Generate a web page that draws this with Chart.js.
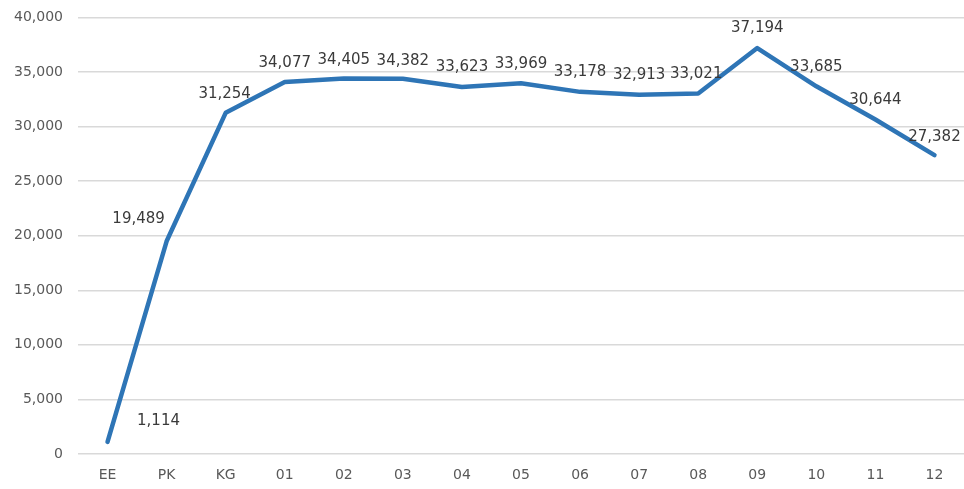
<!DOCTYPE html>
<html>
<head>
<meta charset="utf-8">
<script src="https://cdn.jsdelivr.net/npm/chart.js@4"></script>
<style>
  html, body { margin: 0; padding: 0; background: #fff; overflow: hidden; }
  #wrap { width: 964px; height: 495px; margin-top: -6px; }
</style>
</head>
<body>
<div id="wrap"><canvas id="grafico"></canvas></div>
<script>
// ------------------ datos ------------------
const grados = ["EE", "PK", "KG", "01", "02", "03", "04", "05", "06", "07", "08", "09", "10", "11", "12"];
const alumnos = [1114, 19489, 31254, 34077, 34405, 34382, 33623, 33969, 33178, 32913, 33021, 37194, 33685, 30644, 27382];
const marcasEjeY = [0, 5000, 10000, 15000, 20000, 25000, 30000, 35000, 40000];

// desplazamiento de cada etiqueta respecto a su punto (px)
const despEtiqueta = [
  [51, -21], [-28, -22], [-1, -19], [0, -19], [0, -18], [0, -18], [0, -20], [0, -19],
  [0, -20], [0, -20], [-2, -19], [0, -20], [0, -19], [0, -19], [0, -18]
];

const fmt = v => v.toLocaleString("en-US");

// plugin que escribe el valor encima de cada punto
const etiquetas = {
  id: "etiquetas",
  afterDatasetsDraw(chart) {
    const ctx = chart.ctx;
    const meta = chart.getDatasetMeta(0);
    ctx.save();
    ctx.font = "15px 'DejaVu Sans'";
    ctx.fillStyle = "#3a3a3a";
    ctx.textAlign = "center";
    ctx.textBaseline = "middle";
    meta.data.forEach((p, i) => {
      const [dx, dy] = despEtiqueta[i];
      ctx.fillText(fmt(alumnos[i]), p.x + dx, p.y + dy);
    });
    ctx.restore();
  }
};

const grafico = new Chart(document.getElementById("grafico"), {
  type: "line",
  data: {
    labels: grados,
    datasets: [{
      data: alumnos,
      borderColor: "#2e75b6",
      borderWidth: 4.5,
      pointRadius: 0,
      tension: 0,
      borderCapStyle: "round",
      borderJoinStyle: "round"
    }]
  },
  options: {
    responsive: true,
    maintainAspectRatio: false,
    animation: false,
    layout: { padding: { top: 10, right: 0, left: 0, bottom: 0 } },
    plugins: { legend: { display: false }, tooltip: { enabled: false } },
    scales: {
      x: {
        offset: true,
        grid: { display: false, drawTicks: false },
        border: { display: false },
        ticks: { color: "#595959", font: { family: "DejaVu Sans", size: 14 }, padding: 13 },
        afterFit: s => { s.height = 35; }
      },
      y: {
        min: 0,
        max: 40000,
        afterBuildTicks: s => { s.ticks = marcasEjeY.map(v => ({ value: v })); },
        grid: { color: "#d9d9d9", lineWidth: 1.5, drawTicks: false },
        border: { display: false },
        ticks: {
          color: "#595959",
          font: { family: "DejaVu Sans", size: 14 },
          padding: 15,
          callback: v => fmt(v)
        },
        afterFit: s => { s.width = 78; }
      }
    }
  },
  plugins: [etiquetas]
});
</script>
</body>
</html>
